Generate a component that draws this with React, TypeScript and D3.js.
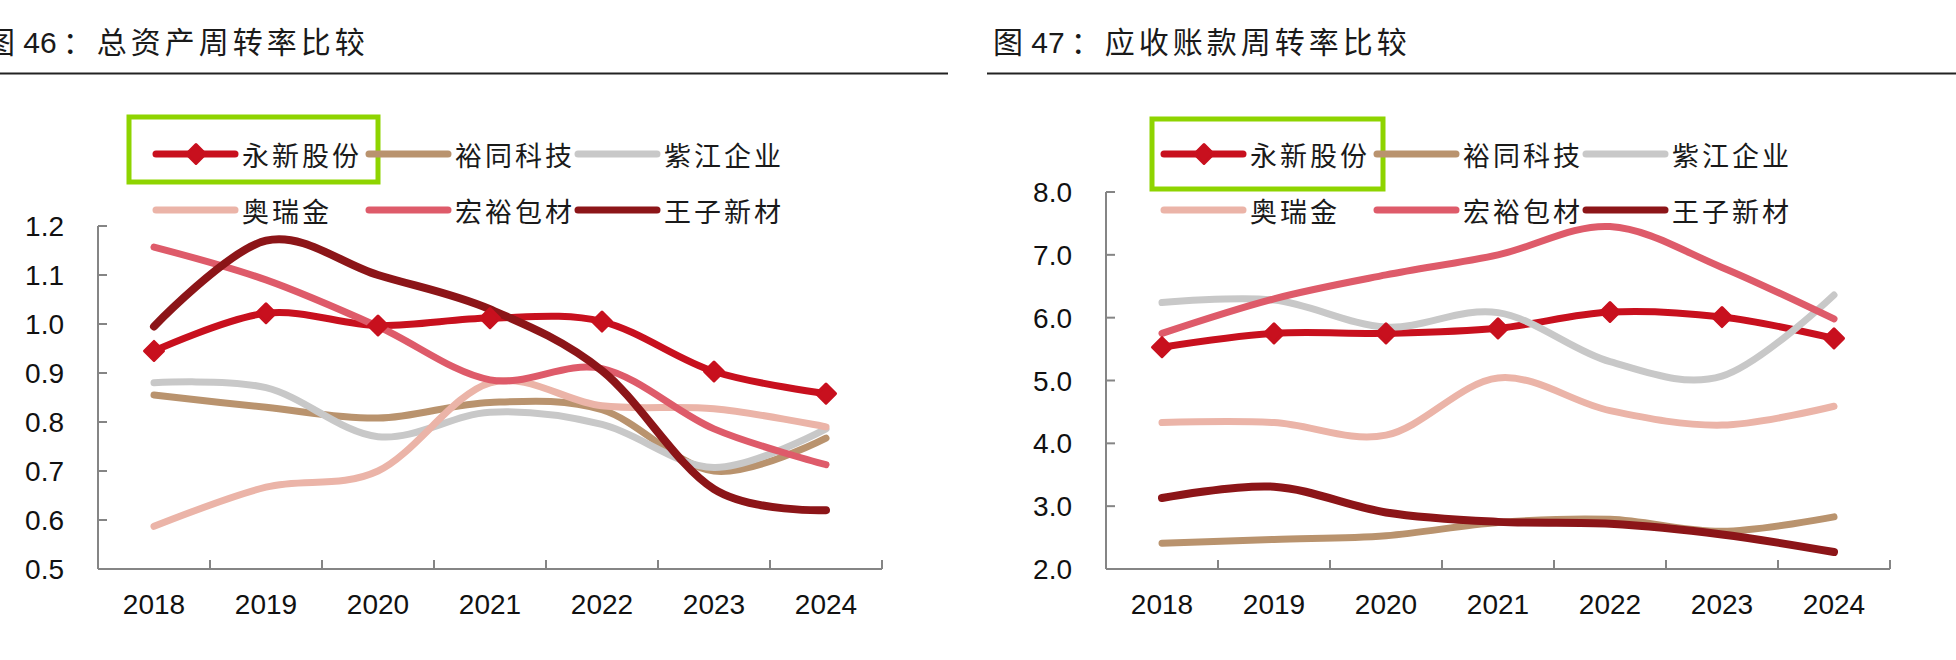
import React from "react";
import * as d3 from "d3";

const years = ["2018", "2019", "2020", "2021", "2022", "2023", "2024"];
const seriesNames = ["永新股份", "裕同科技", "紫江企业", "奥瑞金", "宏裕包材", "王子新材"];
const seriesColors = ["#c8101e", "#b9936e", "#c8c8c8", "#ebb4a8", "#de5b6a", "#8c1518"];

// 图46 总资产周转率
const assetYongxin = [0.945, 1.022, 0.997, 1.012, 1.005, 0.903, 0.858];
const assetYutong = [0.855, 0.83, 0.808, 0.84, 0.825, 0.70, 0.767];
const assetZijiang = [0.88, 0.87, 0.77, 0.82, 0.795, 0.707, 0.786];
const assetAoruijin = [0.587, 0.667, 0.70, 0.88, 0.833, 0.827, 0.79];
const assetHongyu = [1.157, 1.09, 0.995, 0.886, 0.909, 0.786, 0.713];
const assetWangzi = [0.995, 1.17, 1.10, 1.03, 0.905, 0.663, 0.62];
const assetTicks = [0.5, 0.6, 0.7, 0.8, 0.9, 1.0, 1.1, 1.2];

// 图47 应收账款周转率
const arYongxin = [5.53, 5.75, 5.75, 5.83, 6.09, 6.01, 5.67];
const arYutong = [2.41, 2.47, 2.53, 2.74, 2.79, 2.6, 2.83];
const arZijiang = [6.24, 6.28, 5.85, 6.08, 5.3, 5.07, 6.36];
const arAoruijin = [4.33, 4.33, 4.13, 5.04, 4.52, 4.29, 4.59];
const arHongyu = [5.75, 6.3, 6.68, 7.0, 7.45, 6.8, 5.98];
const arWangzi = [3.13, 3.31, 2.9, 2.75, 2.72, 2.55, 2.27];
const arTicks = [2, 3, 4, 5, 6, 7, 8];

const FONT = "'Liberation Sans', Arial, 'Noto Sans CJK SC', sans-serif";
const CJK = "'Noto Sans CJK SC', sans-serif";

function diamondPath(cx: number, cy: number, r: number) {
  return `M${cx},${cy - r}L${cx + r},${cy}L${cx},${cy + r}L${cx - r},${cy}Z`;
}

type PanelProps = {
  x0: number;
  x1: number;
  yTop: number;
  yBottom: number;
  domain: [number, number];
  ticks: number[];
  data: number[][];
  title: string[];
  titleX: number;
  box: [number, number, number, number];
  legendDx: number;
};

function Panel(p: PanelProps) {
  const x = d3.scaleBand<string>().domain(years).range([p.x0, p.x1]);
  const y = d3.scaleLinear().domain(p.domain).range([p.yBottom, p.yTop]);
  const cx = (yr: string) => (x(yr) as number) + x.bandwidth() / 2;
  const line = d3
    .line<number>()
    .x((_, i) => cx(years[i]))
    .y((v) => y(v))
    .curve(d3.curveCardinal.tension(0));
  const fmt = d3.format(".1f");
  const axisColor = "#858585";
  const legendCols = [156, 369, 578];
  const legendRows = [154, 210];
  return (
    <g>
      <text x={p.titleX} y={53} fontFamily={FONT} fontSize={30} fill="#1a1a1a">
        <tspan>{p.title[0]}</tspan>
        <tspan dx={6} letterSpacing={4} fontFamily={CJK}>{p.title[1]}</tspan>
      </text>
      {/* legend */}
      <rect x={p.box[0]} y={p.box[1]} width={p.box[2]} height={p.box[3]} fill="none" stroke="#8ed400" strokeWidth={5} />
      {seriesNames.map((name, i) => {
        const lx = legendCols[i % 3] + p.legendDx;
        const ly = legendRows[Math.floor(i / 3)];
        return (
          <g key={name}>
            <line x1={lx} x2={lx + 79} y1={ly} y2={ly} stroke={seriesColors[i]} strokeWidth={7} strokeLinecap="round" />
            {i === 0 && (
              <path d={diamondPath(lx + 40, ly, 9.5)} fill={seriesColors[0]} stroke={seriesColors[0]} strokeWidth={3} strokeLinejoin="round" />
            )}
            <text x={lx + 86} y={ly} dominantBaseline="central" fontFamily={CJK} fontSize={27} letterSpacing={3} fill="#1a1a1a">
              {name}
            </text>
          </g>
        );
      })}
      {/* axes */}
      <line x1={p.x0} x2={p.x0} y1={y(p.domain[1])} y2={p.yBottom} stroke={axisColor} strokeWidth={2} />
      <line x1={p.x0} x2={p.x1} y1={p.yBottom} y2={p.yBottom} stroke={axisColor} strokeWidth={2} />
      {p.ticks.map((t) => (
        <g key={t}>
          <line x1={p.x0} x2={p.x0 + 9} y1={y(t)} y2={y(t)} stroke={axisColor} strokeWidth={2} />
          <text x={p.x0 - 34} y={y(t)} dy="0.36em" textAnchor="end" fontFamily={FONT} fontSize={28} fill="#111">
            {fmt(t)}
          </text>
        </g>
      ))}
      {years.map((yr, i) => (
        <g key={yr}>
          <line
            x1={(x(yr) as number) + x.bandwidth()}
            x2={(x(yr) as number) + x.bandwidth()}
            y1={p.yBottom}
            y2={p.yBottom - 9}
            stroke={axisColor}
            strokeWidth={2}
          />
          <text x={cx(yr)} y={614} textAnchor="middle" fontFamily={FONT} fontSize={28} fill="#111">
            {yr}
          </text>
        </g>
      ))}
      {/* series */}
      {p.data.map((vals, i) => (
        <path
          key={i}
          d={line(vals) as string}
          fill="none"
          stroke={seriesColors[i]}
          strokeWidth={i === 5 ? 8 : 7}
          strokeLinecap="round"
          strokeLinejoin="round"
        />
      ))}
      {p.data[0].map((v, i) => (
        <path
          key={"m" + i}
          d={diamondPath(cx(years[i]), y(v), 9.5)}
          fill={seriesColors[0]}
          stroke={seriesColors[0]}
          strokeWidth={3}
          strokeLinejoin="round"
        />
      ))}
    </g>
  );
}

export default function App() {
  return (
    <svg
      width={1956}
      height={660}
      viewBox="0 0 1956 660"
      style={{ position: "absolute", left: 0, top: 0, display: "block", background: "#fff" }}
    >
      <rect x={0} y={0} width={1956} height={660} fill="#fff" />
      <line x1={0} x2={948} y1={73.5} y2={73.5} stroke="#222" strokeWidth={2.2} />
      <line x1={987} x2={1956} y1={73.5} y2={73.5} stroke="#222" strokeWidth={2.2} />
      <Panel
        x0={98}
        x1={882}
        yTop={226}
        yBottom={569}
        domain={[0.5, 1.2]}
        ticks={assetTicks}
        data={[assetYongxin, assetYutong, assetZijiang, assetAoruijin, assetHongyu, assetWangzi]}
        title={["图 46", "：总资产周转率比较"]}
        titleX={-15}
        box={[129, 117, 249, 65]}
        legendDx={0}
      />
      <Panel
        x0={1106}
        x1={1890}
        yTop={192}
        yBottom={569}
        domain={[2, 8]}
        ticks={arTicks}
        data={[arYongxin, arYutong, arZijiang, arAoruijin, arHongyu, arWangzi]}
        title={["图 47", "：应收账款周转率比较"]}
        titleX={993}
        box={[1152, 119, 231, 70]}
        legendDx={1008}
      />
    </svg>
  );
}
